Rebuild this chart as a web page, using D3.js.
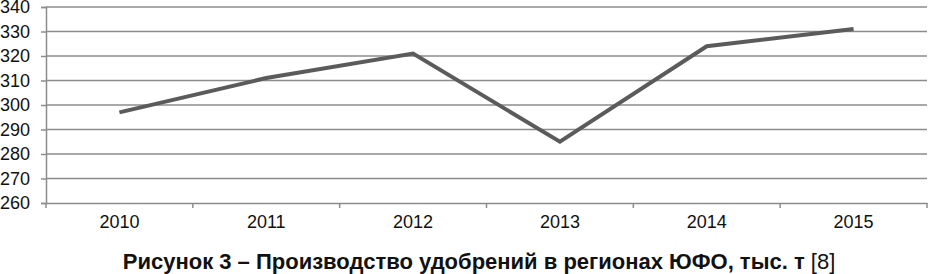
<!DOCTYPE html>
<html>
<head>
<meta charset="utf-8">
<script src="https://cdn.jsdelivr.net/npm/d3@7"></script>
<style>
  body { margin: 0; background: #fff; }
  text { font-family: "Liberation Sans", Arial, sans-serif; }
</style>
</head>
<body>
<div id="chart"></div>
<script>
// Data
const years = ["2010", "2011", "2012", "2013", "2014", "2015"];
const values = [297, 311, 321, 285, 324, 331];
const yTicks = [260, 270, 280, 290, 300, 310, 320, 330, 340];
const titleBold = "Рисунок 3 – Производство удобрений в регионах ЮФО, тыс. т";
const titleRef = " [8]";

const W = 928, H = 274;
const margin = { top: 7, right: 1, bottom: 71, left: 46 };
const width = W - margin.left - margin.right,
      height = H - margin.top - margin.bottom;

const svg = d3.select("#chart")
  .append("svg")
  .attr("width", W)
  .attr("height", H);

const g = svg.append("g")
  .attr("transform", `translate(${margin.left},${margin.top})`);

const x = d3.scaleBand()
  .domain(years)
  .range([0, width]);

const y = d3.scaleLinear()
  .domain([260, 340])
  .range([height, 0]);

// Gridlines
g.selectAll(".grid")
  .data(yTicks.slice(1))
  .join("line")
  .attr("class", "grid")
  .attr("x1", 0)
  .attr("x2", width)
  .attr("y1", d => y(d))
  .attr("y2", d => y(d))
  .attr("stroke", "#8c8c8c")
  .attr("stroke-width", 1.5);

// Y axis
const yAxis = g.append("g")
  .call(d3.axisLeft(y).tickValues(yTicks).tickSize(5).tickPadding(11));
yAxis.select(".domain").attr("stroke", "#8c8c8c").attr("stroke-width", 1.5);
yAxis.selectAll(".tick line").attr("stroke", "#8c8c8c").attr("stroke-width", 1.5);
yAxis.selectAll(".tick text")
  .attr("font-size", 18)
  .attr("fill", "#111");

// X axis (ticks between categories)
const xAxis = g.append("g")
  .attr("transform", `translate(0,${height})`)
  .call(d3.axisBottom(x).tickSize(0).tickPadding(12));
xAxis.select(".domain").attr("stroke", "#8c8c8c").attr("stroke-width", 1.5);
xAxis.selectAll(".tick text")
  .attr("font-size", 18)
  .attr("fill", "#111");

g.selectAll(".xtick")
  .data(years.concat(["end"]))
  .join("line")
  .attr("class", "xtick")
  .attr("x1", (d, i) => i < years.length ? x(d) : width)
  .attr("x2", (d, i) => i < years.length ? x(d) : width)
  .attr("y1", height)
  .attr("y2", height + 5)
  .attr("stroke", "#8c8c8c")
  .attr("stroke-width", 1.5);

// Line
const line = d3.line()
  .x((d, i) => x(years[i]) + x.bandwidth() / 2)
  .y(d => y(d));

g.append("path")
  .datum(values)
  .attr("fill", "none")
  .attr("stroke", "#5b5b5b")
  .attr("stroke-width", 4)
  .attr("stroke-linejoin", "miter")
  .attr("d", line);

// Caption
const title = svg.append("text")
  .attr("x", 479)
  .attr("y", 269)
  .attr("text-anchor", "middle")
  .attr("font-size", 22)
  .attr("fill", "#111");
title.append("tspan").attr("font-weight", "bold").text(titleBold);
title.append("tspan").text(titleRef);
</script>
</body>
</html>
